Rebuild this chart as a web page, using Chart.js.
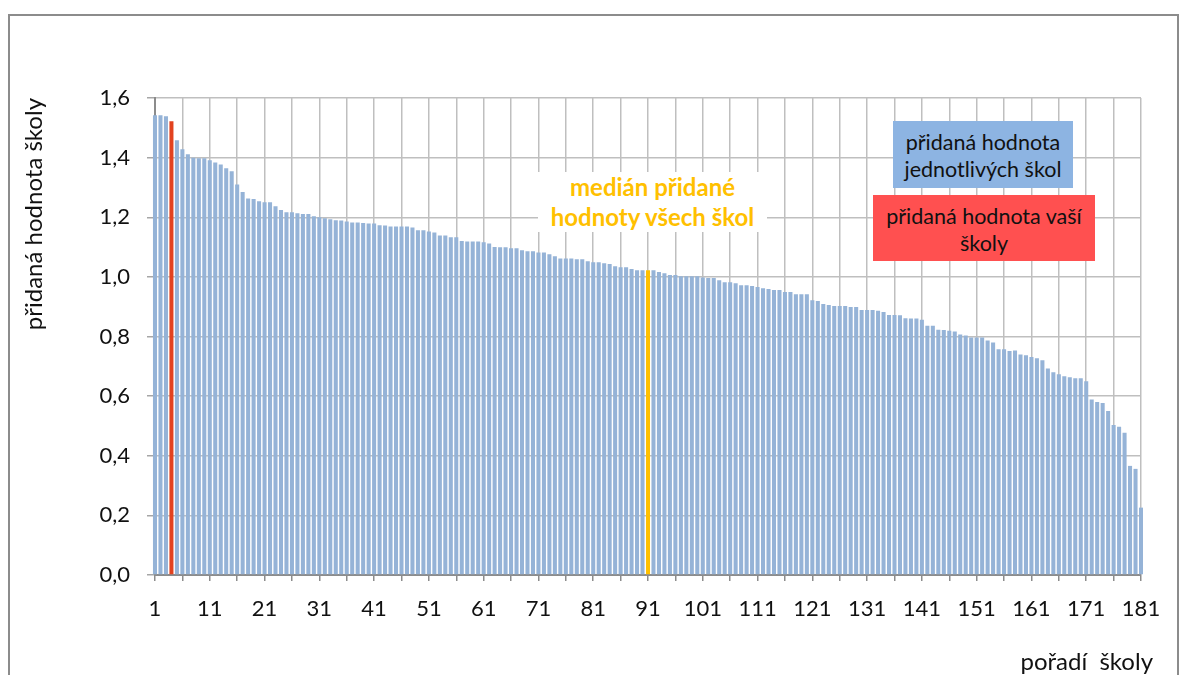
<!DOCTYPE html>
<html lang="cs">
<head>
<meta charset="utf-8">
<title>Přidaná hodnota škol</title>
<script src="https://cdn.jsdelivr.net/npm/chart.js@4"></script>
<style>
  html, body { margin: 0; padding: 0; background: #fff; }
  #wrap { position: relative; width: 1181px; height: 675px; overflow: hidden; font-family: Lato, "Noto Sans", sans-serif; }
  #frame { position: absolute; left: 8px; top: 14px; width: 1167px; height: 700px; border: 2px solid #8c8c8c; }
  #chart { position: absolute; left: 0; top: 0; }
  .note { position: absolute; text-align: center; font-size: 21.5px; line-height: 27px; color: #111; }
  #median { left: 538px; top: 172px; width: 229px; height: 60px; background: #fff; color: #ffc000; font-weight: bold; font-size: 24px; line-height: 30px; }
  #boxBlue { left: 893px; top: 121px; width: 180px; height: 67px; background: #8db4e2; padding-top: 8px; box-sizing: border-box; }
  #boxRed { left: 873px; top: 195px; width: 222px; height: 66px; background: #ff5050; padding-top: 8px; box-sizing: border-box; }
</style>
</head>
<body>
<div id="wrap">
  <div id="frame"></div>
  <canvas id="chart" width="1181" height="675"></canvas>
  <div class="note" id="median">medián přidané<br>hodnoty všech škol</div>
  <div class="note" id="boxBlue">přidaná hodnota<br>jednotlivých škol</div>
  <div class="note" id="boxRed">přidaná hodnota vaší<br>školy</div>
</div>

<script>
// Added value of each school, sorted from best to worst
const addedValues = [
  1.542, 1.542, 1.539, 1.522, 1.458, 1.428, 1.411, 1.400, 1.398, 1.398,
  1.391, 1.384, 1.377, 1.364, 1.354, 1.310, 1.285, 1.263, 1.261, 1.254,
  1.250, 1.250, 1.237, 1.224, 1.217, 1.217, 1.213, 1.211, 1.211, 1.203,
  1.200, 1.197, 1.193, 1.190, 1.189, 1.186, 1.182, 1.182, 1.181, 1.179,
  1.179, 1.173, 1.172, 1.169, 1.169, 1.169, 1.169, 1.166, 1.156, 1.156,
  1.152, 1.149, 1.139, 1.139, 1.133, 1.133, 1.120, 1.119, 1.119, 1.119,
  1.116, 1.112, 1.100, 1.099, 1.099, 1.096, 1.096, 1.089, 1.086, 1.086,
  1.082, 1.082, 1.076, 1.069, 1.062, 1.062, 1.062, 1.059, 1.059, 1.052,
  1.049, 1.049, 1.046, 1.043, 1.036, 1.032, 1.032, 1.026, 1.022, 1.022,
  1.022, 1.022, 1.016, 1.012, 1.006, 1.006, 1.002, 1.002, 1.002, 1.002,
  0.998, 0.996, 0.996, 0.989, 0.982, 0.982, 0.979, 0.972, 0.972, 0.969,
  0.966, 0.962, 0.959, 0.956, 0.956, 0.949, 0.949, 0.942, 0.942, 0.942,
  0.922, 0.919, 0.909, 0.906, 0.902, 0.902, 0.902, 0.899, 0.899, 0.889,
  0.889, 0.889, 0.886, 0.882, 0.872, 0.872, 0.871, 0.861, 0.860, 0.860,
  0.856, 0.836, 0.836, 0.823, 0.822, 0.819, 0.817, 0.807, 0.803, 0.797,
  0.797, 0.797, 0.787, 0.780, 0.757, 0.757, 0.751, 0.753, 0.740, 0.737,
  0.731, 0.727, 0.720, 0.693, 0.680, 0.673, 0.667, 0.663, 0.660, 0.660,
  0.650, 0.589, 0.580, 0.577, 0.550, 0.503, 0.497, 0.477, 0.366, 0.356,
  0.226
];

// School ranks 1..181 are the categories
const schoolRanks = addedValues.map((v, i) => String(i + 1));

// Highlighted bars
const yourSchoolRank = 4;
const medianRank = 91;

// Value axis
const yMin = 0;
const yMax = 1.6;
const yStep = 0.2;

const xTitle = 'pořadí  školy';
const yTitle = 'přidaná hodnota školy';

const colorBar = '#95b3d7';
const colorYours = '#e2421f';
const colorMedian = '#ffc000';
const gridColor = '#bfbfbf';
const axisColor = '#8c8c8c';
const textColor = '#111';

const barColors = schoolRanks.map(rank => {
  if (Number(rank) === yourSchoolRank) return colorYours;
  if (Number(rank) === medianRank) return colorMedian;
  return colorBar;
});

const fontFamily = 'Lato, "Noto Sans", sans-serif';
const tickFont = { family: fontFamily, size: 22 };

// x axis title sits at the bottom right corner, a bit past the plot
const xTitlePlugin = {
  id: 'xTitle',
  afterDraw(chart) {
    const ctx = chart.ctx;
    ctx.save();
    ctx.font = '24px ' + fontFamily;
    ctx.fillStyle = textColor;
    ctx.textAlign = 'right';
    ctx.textBaseline = 'middle';
    ctx.fillText(xTitle, chart.chartArea.right + 12, 662);
    ctx.restore();
  }
};

new Chart(document.getElementById('chart'), {
  type: 'bar',
  data: {
    labels: schoolRanks,
    datasets: [{
      data: addedValues,
      backgroundColor: barColors,
      borderWidth: 0,
      categoryPercentage: 1,
      barPercentage: 0.74,
      clip: false
    }]
  },
  options: {
    responsive: false,
    animation: false,
    events: [],
    layout: {
      padding: { top: 98, right: 40, left: 0, bottom: 0 }
    },
    plugins: {
      legend: { display: false },
      tooltip: { enabled: false }
    },
    scales: {
      x: {
        offset: false,
        grid: {
          offset: false,
          color: gridColor,
          tickColor: axisColor,
          tickLength: 6,
          lineWidth: 1.5
        },
        border: { color: axisColor, width: 2 },
        ticks: {
          autoSkip: false,
          maxRotation: 0,
          minRotation: 0,
          padding: 15,
          color: textColor,
          font: tickFont,
          callback: function(value, index) {
            if (index % 10 === 0) return this.getLabelForValue(value);
            if (index % 5 === 0) return '';
            return null;
          }
        },
        afterFit: scale => { scale.height = 100; }
      },
      y: {
        min: yMin,
        max: yMax,
        grid: {
          color: gridColor,
          tickColor: '#a6a6a6',
          tickLength: 8,
          lineWidth: 1.5
        },
        border: { color: axisColor, width: 2 },
        ticks: {
          stepSize: yStep,
          padding: 17,
          color: textColor,
          font: tickFont,
          callback: value => value.toFixed(1).replace('.', ',')
        },
        title: {
          display: true,
          text: yTitle,
          align: 'end',
          color: textColor,
          font: { family: fontFamily, size: 24 },
          padding: { top: 20, bottom: 0 }
        },
        afterFit: scale => { scale.width = 155; }
      }
    }
  },
  plugins: [xTitlePlugin]
});
</script>
</body>
</html>
